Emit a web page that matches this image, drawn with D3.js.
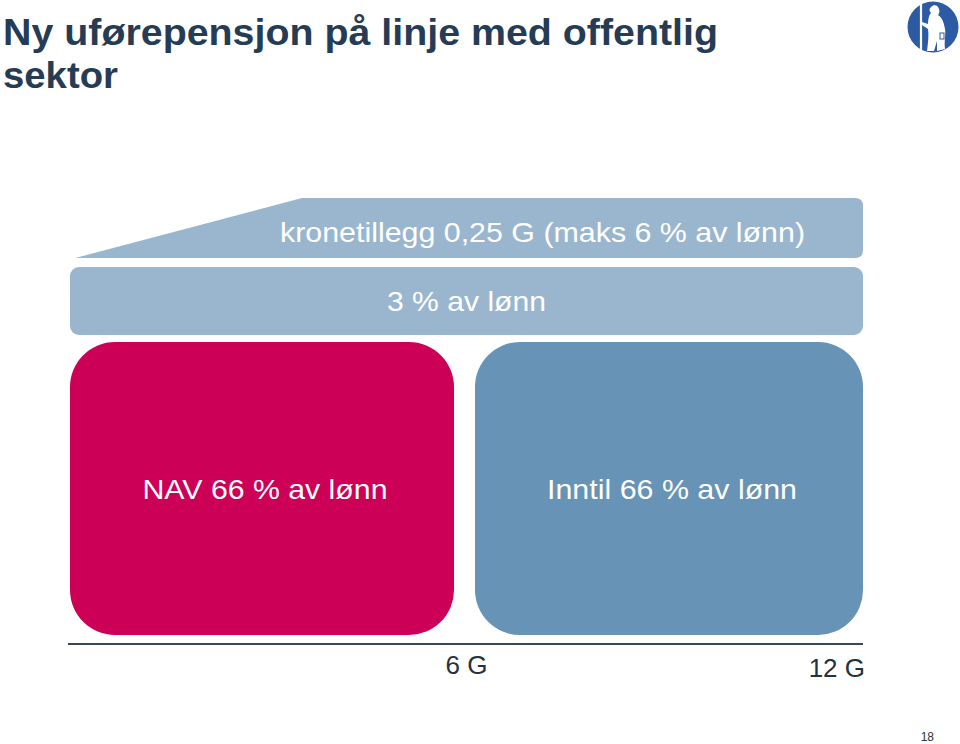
<!DOCTYPE html>
<html><head><meta charset="utf-8">
<script src="https://cdn.jsdelivr.net/npm/d3@7"></script>
<style>html,body{margin:0;padding:0;background:#fff;}svg{display:block;}</style>
</head><body>
<script>
// ---- data ----
const titleLines = ["Ny uførepensjon på linje med offentlig", "sektor"];
const axisTicks = [6, 12];
const axisTickLabels = ["6 G", "12 G"];
const axisDomain = [0, 12];
const baseSegments = ["NAV 66 % av lønn", "Inntil 66 % av lønn"];
const baseFrom = [0, 6];
const baseTo = [6, 12];
const middleLabel = "3 % av lønn";
const middleFrom = 0, middleTo = 12;
const topLabel = "kronetillegg 0,25 G (maks 6 % av lønn)";
const topRampStart = 0.08, topRampFull = 3.51, topEnd = 12;
const pageNumber = "18";

const W = 960, H = 744;
const svg = d3.select("body").append("svg").attr("width", W).attr("height", H);
const font = "Liberation Sans, Arial, sans-serif";

const x = d3.scaleLinear().domain(axisDomain).range([70, 863]);

// title
const tg = svg.append("g").attr("fill", "#263c55").attr("font-family", font).attr("font-weight", "bold").attr("font-size", 37);
tg.append("text").attr("x", 3).attr("y", 45).attr("textLength", 715).attr("lengthAdjust", "spacingAndGlyphs").text(titleLines[0]);
tg.append("text").attr("x", 3).attr("y", 88).attr("textLength", 115).attr("lengthAdjust", "spacingAndGlyphs").text(titleLines[1]);

// logo
const lg = svg.append("g").attr("transform", "translate(933,27)");
lg.append("circle").attr("r", 25.5).attr("fill", "#2c5ba4");
lg.append("line").attr("x1", -12).attr("y1", -24).attr("x2", -12).attr("y2", 24).attr("stroke", "#fff").attr("stroke-width", 2.2);
lg.append("path").attr("fill", "#fff")
  .attr("d", "M-2,-20 C1,-23 5,-22 6,-18 C7,-15 6,-13 5,-12 C9,-10 11,-4 12,2 C13,8 11,14 12,22 L4,24 L4,14 L1,24 L-6,24 C-5,16 -4,8 -5,2 L-11,-2 L-11,-5 L-5,-3 C-5,-8 -4,-12 -2,-14 C-4,-16 -4,-18 -2,-20 Z");
lg.append("rect").attr("x", 7).attr("y", 6).attr("width", 4).attr("height", 6).attr("fill", "none").attr("stroke", "#2c5ba4").attr("stroke-width", 1);

// top layer (kronetillegg, ramp)
const yTopT = 198, yTopB = 258, r1 = 8;
const xr0 = x(topRampStart), xr1 = x(topRampFull), xe = x(topEnd);
const p = d3.path();
p.moveTo(xr0, yTopB);
p.lineTo(xr1, yTopT);
p.lineTo(xe - r1, yTopT);
p.quadraticCurveTo(xe, yTopT, xe, yTopT + r1);
p.lineTo(xe, yTopB - r1);
p.quadraticCurveTo(xe, yTopB, xe - r1, yTopB);
p.closePath();
svg.append("path").attr("d", p.toString()).attr("fill", "#9ab6ce");
svg.append("text").attr("x", 280).attr("y", 242).attr("fill", "#fff").attr("font-family", font).attr("font-size", 28)
  .attr("textLength", 525).attr("lengthAdjust", "spacingAndGlyphs").text(topLabel);

// middle layer
svg.append("rect").attr("x", x(middleFrom)).attr("y", 267).attr("width", x(middleTo) - x(middleFrom)).attr("height", 68)
  .attr("rx", 9).attr("fill", "#9ab6ce");
svg.append("text").attr("x", (x(middleFrom) + x(middleTo)) / 2).attr("y", 311).attr("text-anchor", "middle")
  .attr("fill", "#fff").attr("font-family", font).attr("font-size", 28)
  .attr("textLength", 159).attr("lengthAdjust", "spacingAndGlyphs").text(middleLabel);

// base layer
const baseColors = ["#cd0058", "#6793b6"];
const gapL = [0, 8.5], gapR = [12.5, 0];
const labelW = [245, 250];
baseSegments.forEach((lab, i) => {
  const x0 = x(baseFrom[i]) + gapL[i], x1 = x(baseTo[i]) - gapR[i];
  svg.append("rect").attr("x", x0).attr("y", 342).attr("width", x1 - x0).attr("height", 293)
    .attr("rx", 45).attr("fill", baseColors[i]);
  svg.append("text").attr("x", (x0 + x1) / 2 + 3).attr("y", 499).attr("text-anchor", "middle")
    .attr("fill", "#fff").attr("font-family", font).attr("font-size", 28)
    .attr("textLength", labelW[i]).attr("lengthAdjust", "spacingAndGlyphs").text(lab);
});

// axis
svg.append("line").attr("x1", 68).attr("x2", x(12)).attr("y1", 644).attr("y2", 644).attr("stroke", "#3b4756").attr("stroke-width", 2);
const tickY = [674, 677];
const tickAnchor = ["middle", "end"];
axisTicks.forEach((t, i) => {
  svg.append("text").attr("x", t === 12 ? x(t) + 2 : x(t)).attr("y", tickY[i]).attr("text-anchor", tickAnchor[i])
    .attr("fill", "#25313f").attr("font-family", font).attr("font-size", 26).text(axisTickLabels[i]);
});

// page number
svg.append("text").attr("x", 934).attr("y", 741).attr("text-anchor", "end").attr("fill", "#333")
  .attr("font-family", font).attr("font-size", 12).text(pageNumber);
</script>
</body></html>
